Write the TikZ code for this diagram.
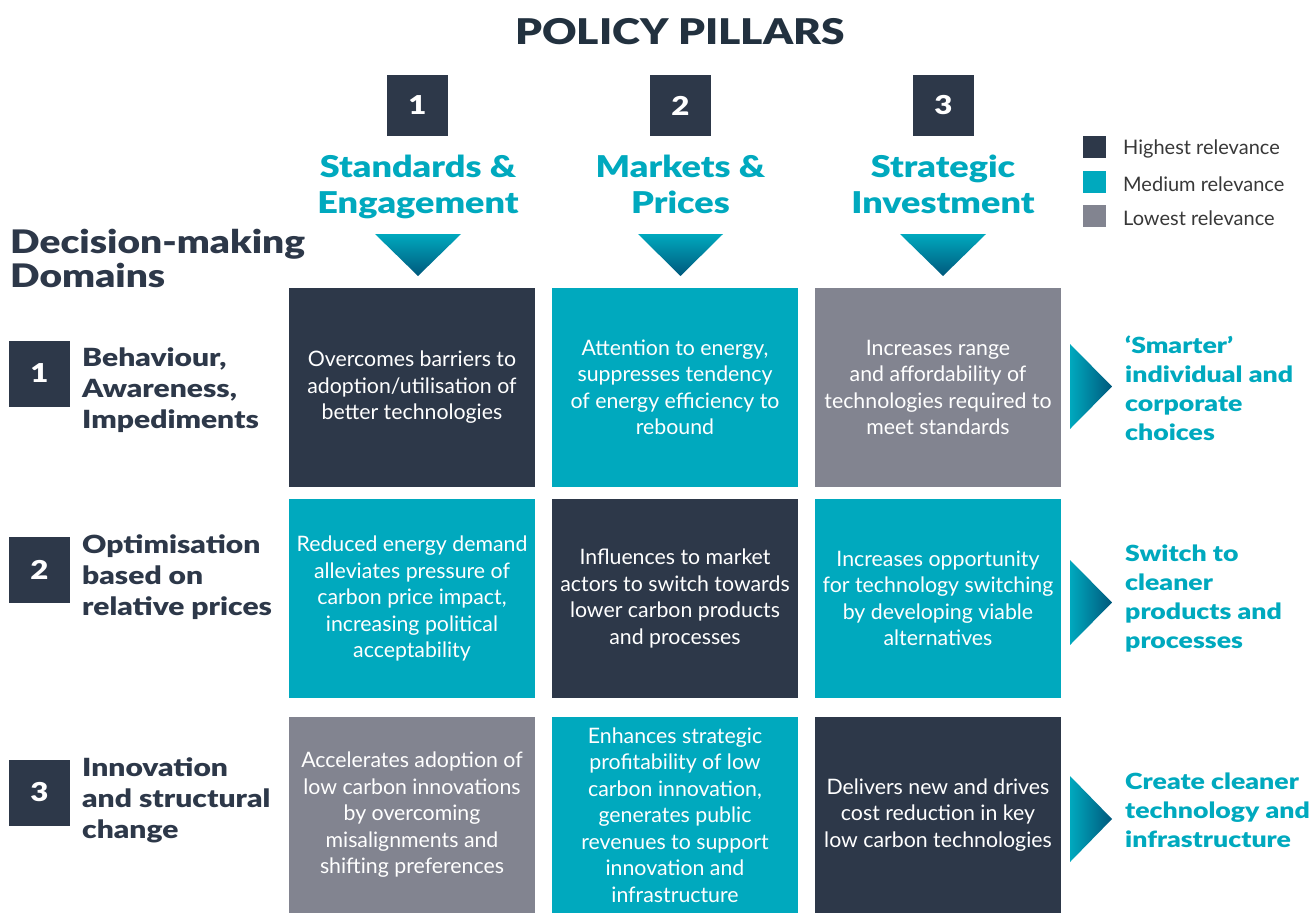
\documentclass[tikz,border=0pt]{standalone}
\usepackage{fontspec}
\setmainfont{Lato}
\newfontfamily\heavyfont{Lato Black}[FakeStretch=1.2]
\definecolor{navy}{HTML}{2D3849}
\definecolor{aqua}{HTML}{00A9BE}
\definecolor{slate}{HTML}{828490}
\definecolor{deepblue}{HTML}{00587C}
\definecolor{titleink}{HTML}{22313F}

\begin{document}
\begin{tikzpicture}[x=1pt,y=-1pt,
  cell/.style={minimum width=246pt,minimum height=199pt,inner sep=0pt,text=white,align=center,
    font=\fontsize{21.3}{26.5}\selectfont},
  numbox/.style={fill=navy,text=white,minimum width=61pt,minimum height=66pt,inner sep=0pt,
    font=\heavyfont\fontsize{26}{30}\selectfont},
  pillar/.style={text=aqua,align=center,anchor=north,inner sep=0pt,
    font=\heavyfont\fontsize{30}{36}\selectfont},
  domlabel/.style={text=navy,align=left,anchor=north west,inner sep=0pt,
    font=\heavyfont\fontsize{25}{31}\selectfont},
  outcome/.style={text=aqua,align=left,anchor=north west,inner sep=0pt,
    font=\heavyfont\fontsize{22.2}{29}\selectfont},
  key/.style={minimum width=23pt,minimum height=22pt,inner sep=0pt},
  keytext/.style={anchor=west,inner sep=0pt,text=black!78,font=\fontsize{20}{24}\selectfont}]
\useasboundingbox (0,0) rectangle (1312,913);

\node[text=titleink,font=\heavyfont\fontsize{35.4}{40}\selectfont] (title) at (680,32) {POLICY PILLARS};

\node[numbox,minimum height=61pt] (p1) at (417.5,105.5) {1};
\node[numbox,minimum height=61pt] (p2) at (680.5,105.5) {2};
\node[numbox,minimum height=61pt] (p3) at (943.5,105.5) {3};
\node[pillar] (h1) at (418,155) {Standards \&\\Engagement};
\node[pillar] (h2) at (680.5,155) {Markets \&\\Prices};
\node[pillar] (h3) at (943,155) {Strategic\\Investment};
\shade[top color=aqua,bottom color=deepblue] (375,234) -- (461,234) -- (418,276) -- cycle;
\shade[top color=aqua,bottom color=deepblue] (638,234) -- (723,234) -- (680.5,276) -- cycle;
\shade[top color=aqua,bottom color=deepblue] (900,234) -- (986,234) -- (943,276) -- cycle;

\node[key,fill=navy] (k1) at (1094.5,147) {};
\node[key,fill=aqua] (k2) at (1094.5,182) {};
\node[key,fill=slate] (k3) at (1094.5,216) {};
\node[keytext] at (1123,149) {Highest relevance};
\node[keytext] at (1123,184) {Medium relevance};
\node[keytext] at (1123,218) {Lowest relevance};

\node[text=navy,align=left,anchor=north west,inner sep=0pt,
  font=\heavyfont\fontsize{32.4}{34}\selectfont] (dm) at (10,229) {Decision-making\\Domains};

\node[numbox] (d1) at (39.5,373.5) {1};
\node[numbox] (d2) at (39.5,570) {2};
\node[numbox] (d3) at (39.5,792.5) {3};
\node[domlabel] (t1) at (82,348) {Behaviour,\\Awareness,\\Impediments};
\node[domlabel] (t2) at (82,534) {Optimisation\\based on\\relative prices};
\node[domlabel] (t3) at (82,757) {Innovation\\and structural\\change};

\node[cell,fill=navy] (c11) at (412,387.5) {Overcomes barriers to\\adoption/utilisation of\\better technologies};
\node[cell,fill=aqua] (c12) at (675,387.5) {Attention to energy,\\suppresses tendency\\of energy efficiency to\\rebound};
\node[cell,fill=slate] (c13) at (938,387.5) {Increases range\\and affordability of\\technologies required to\\meet standards};
\node[cell,fill=aqua] (c21) at (412,598.5) {Reduced energy demand\\alleviates pressure of\\carbon price impact,\\increasing political\\acceptability};
\node[cell,fill=navy] (c22) at (675,598.5) {Influences to market\\actors to switch towards\\lower carbon products\\and processes};
\node[cell,fill=aqua] (c23) at (938,598.5) {Increases opportunity\\for technology switching\\by developing viable\\alternatives};
\node[cell,fill=slate,minimum height=196pt] (c31) at (412,815) {Accelerates adoption of\\low carbon innovations\\by overcoming\\misalignments and\\shifting preferences};
\node[cell,fill=aqua,minimum height=196pt] (c32) at (675,815) {Enhances strategic\\profitability of low\\carbon innovation,\\generates public\\revenues to support\\innovation and\\infrastructure};
\node[cell,fill=navy,minimum height=196pt] (c33) at (938,815) {Delivers new and drives\\cost reduction in key\\low carbon technologies};

\shade[left color=aqua,right color=deepblue] (1070,344) -- (1112,386.5) -- (1070,429) -- cycle;
\shade[left color=aqua,right color=deepblue] (1070,560) -- (1112,602.5) -- (1070,645) -- cycle;
\shade[left color=aqua,right color=deepblue] (1070,776) -- (1112,819) -- (1070,862) -- cycle;
\node[outcome] (o1) at (1125,336) {‘Smarter’\\individual and\\corporate\\choices};
\node[outcome] (o2) at (1125,545) {Switch to\\cleaner\\products and\\processes};
\node[outcome] (o3) at (1125,773) {Create cleaner\\technology and\\infrastructure};
\end{tikzpicture}
\end{document}
